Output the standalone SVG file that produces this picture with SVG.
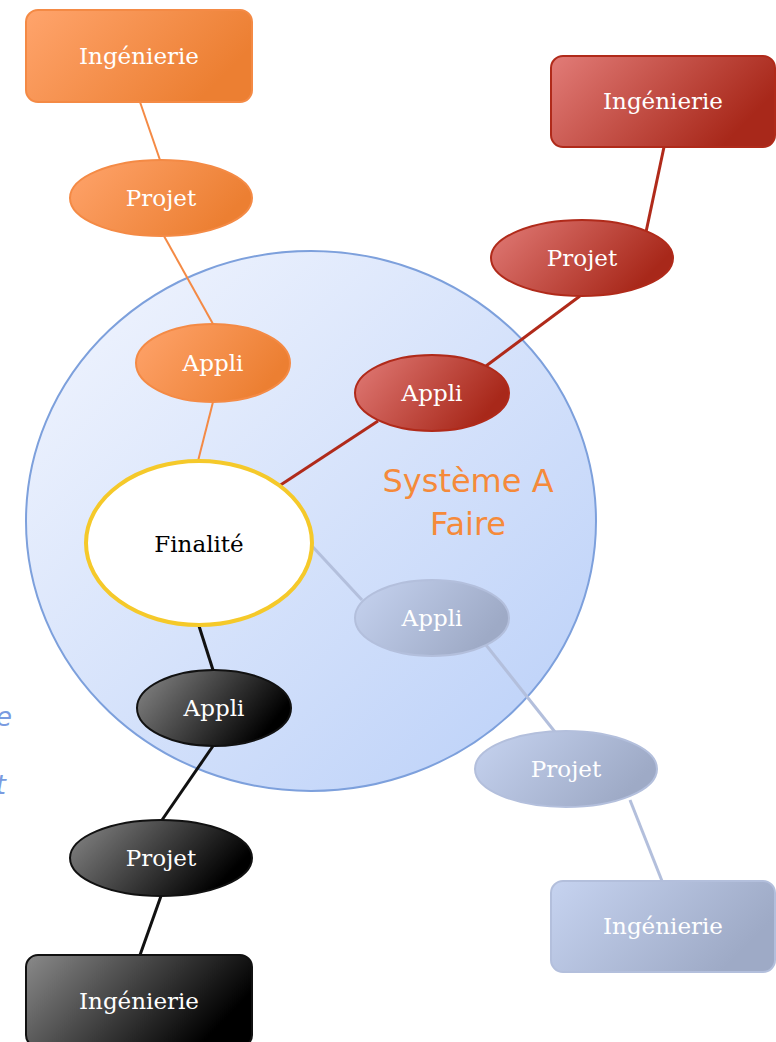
<svg xmlns="http://www.w3.org/2000/svg" width="776" height="1042" viewBox="0 0 776 1042">
<defs>
<linearGradient id="gBig" x1="0" y1="0" x2="1" y2="1"><stop offset="0" stop-color="#f3f6fe"/><stop offset="1" stop-color="#b9cff8"/></linearGradient>
<linearGradient id="gOr" x1="0" y1="0" x2="1" y2="0.4"><stop offset="0" stop-color="#ffa46c"/><stop offset="1" stop-color="#ec7f32"/></linearGradient>
<linearGradient id="gRe" x1="0" y1="0" x2="1" y2="0.4"><stop offset="0" stop-color="#e27c78"/><stop offset="1" stop-color="#a8281a"/></linearGradient>
<linearGradient id="gGb" x1="0" y1="0" x2="1" y2="0.4"><stop offset="0" stop-color="#c6d3f0"/><stop offset="1" stop-color="#9eaac6"/></linearGradient>
<linearGradient id="gBk" x1="0" y1="0" x2="1" y2="0.4"><stop offset="0" stop-color="#8a8a8a"/><stop offset="1" stop-color="#000000"/></linearGradient>
</defs>
<style>
.lbl{font-family:"DejaVu Serif","Liberation Serif",serif;font-size:23px;fill:#ffffff;text-anchor:middle}
.or{fill:url(#gOr);stroke:#f48a45;stroke-width:2}
.re{fill:url(#gRe);stroke:#b02a1a;stroke-width:2}
.gb{fill:url(#gGb);stroke:#b3bfdc;stroke-width:2}
.bk{fill:url(#gBk);stroke:#111;stroke-width:2}
.cOr{stroke:#f48a45;stroke-width:2;fill:none}
.cRe{stroke:#b02a1a;stroke-width:3;fill:none}
.cGb{stroke:#b3bfdc;stroke-width:3;fill:none}
.cBk{stroke:#111;stroke-width:3;fill:none}
</style>
<g id="systeme">
<ellipse cx="311" cy="521" rx="285" ry="270" fill="url(#gBig)" stroke="#7da0dc" stroke-width="2"/>
<text x="468" y="492" font-family="DejaVu Sans,Verdana,sans-serif" font-size="32" fill="#f58a3a" text-anchor="middle">Système A</text>
<text x="468" y="535" font-family="DejaVu Sans,Verdana,sans-serif" font-size="32" fill="#f58a3a" text-anchor="middle">Faire</text>
</g>
<g id="edge-text" font-family="DejaVu Sans,sans-serif" font-style="italic" font-size="26" fill="#7a9be0">
<text x="12" y="726" text-anchor="end">e</text>
<text x="6" y="794" text-anchor="end">t</text>
</g>
<g id="connectors">
<line class="cOr" x1="140" y1="102" x2="160" y2="160"/>
<line class="cOr" x1="164" y1="236" x2="213" y2="324"/>
<line class="cOr" x1="213" y1="402" x2="198" y2="461"/>
<line class="cRe" x1="664" y1="147" x2="646" y2="232"/>
<line class="cRe" x1="580" y1="296" x2="486" y2="366"/>
<line class="cRe" x1="378" y1="421" x2="279" y2="486"/>
<line class="cGb" x1="312" y1="546" x2="362" y2="600"/>
<line class="cGb" x1="486" y1="645" x2="555" y2="732"/>
<line class="cGb" x1="630" y1="800" x2="662" y2="881"/>
<line class="cBk" x1="199" y1="626" x2="213" y2="670"/>
<line class="cBk" x1="213" y1="746" x2="162" y2="820"/>
<line class="cBk" x1="161" y1="896" x2="140" y2="955"/>
</g>
<g id="finalite">
<ellipse cx="199" cy="543" rx="113" ry="82" fill="#ffffff" stroke="#f5c92a" stroke-width="4"/>
<text x="199" y="552" font-family="DejaVu Serif,Liberation Serif,serif" font-size="23" fill="#000" text-anchor="middle">Finalité</text>
</g>
<g id="ing-orange"><rect class="or" x="26" y="10" width="226" height="92" rx="12"/><text class="lbl" x="139" y="64">Ingénierie</text></g>
<g id="projet-orange"><ellipse class="or" cx="161" cy="198" rx="91" ry="38"/><text class="lbl" x="161" y="206">Projet</text></g>
<g id="appli-orange"><ellipse class="or" cx="213" cy="363" rx="77" ry="39"/><text class="lbl" x="213" y="371">Appli</text></g>
<g id="ing-red"><rect class="re" x="551" y="56" width="224" height="91" rx="12"/><text class="lbl" x="663" y="109">Ingénierie</text></g>
<g id="projet-red"><ellipse class="re" cx="582" cy="258" rx="91" ry="38"/><text class="lbl" x="582" y="266">Projet</text></g>
<g id="appli-red"><ellipse class="re" cx="432" cy="393" rx="77" ry="38"/><text class="lbl" x="432" y="401">Appli</text></g>
<g id="appli-gb"><ellipse class="gb" cx="432" cy="618" rx="77" ry="38"/><text class="lbl" x="432" y="626">Appli</text></g>
<g id="projet-gb"><ellipse class="gb" cx="566" cy="769" rx="91" ry="38"/><text class="lbl" x="566" y="777">Projet</text></g>
<g id="ing-gb"><rect class="gb" x="551" y="881" width="224" height="91" rx="12"/><text class="lbl" x="663" y="934">Ingénierie</text></g>
<g id="appli-bk"><ellipse class="bk" cx="214" cy="708" rx="77" ry="38"/><text class="lbl" x="214" y="716">Appli</text></g>
<g id="projet-bk"><ellipse class="bk" cx="161" cy="858" rx="91" ry="38"/><text class="lbl" x="161" y="866">Projet</text></g>
<g id="ing-bk"><rect class="bk" x="26" y="955" width="226" height="92" rx="12"/><text class="lbl" x="139" y="1009">Ingénierie</text></g>
</svg>
